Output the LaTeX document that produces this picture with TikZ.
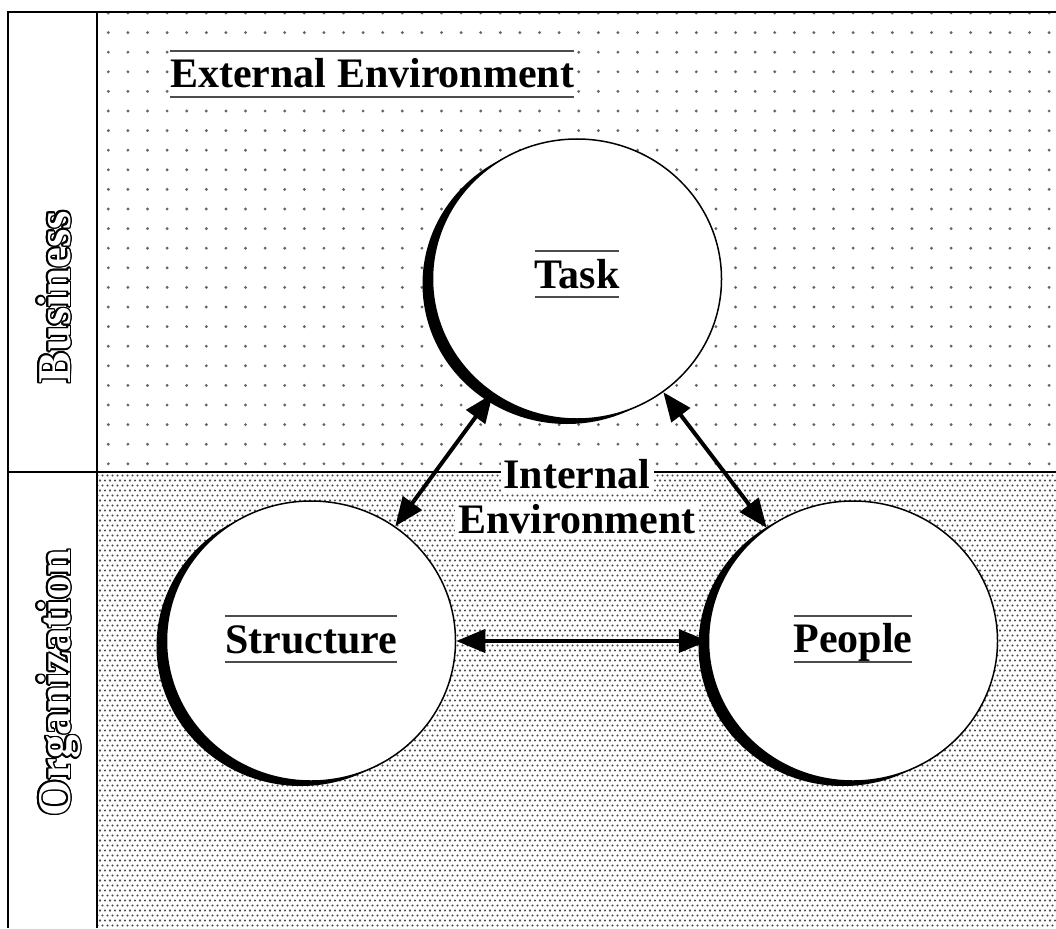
\documentclass[tikz,border=0pt]{standalone}
\usepackage{fontspec}
\setmainfont{Liberation Serif}
\usepackage{contour}
\usetikzlibrary{arrows.meta,shapes.geometric,shadows,patterns}

\pgfdeclarepatternformonly{densedots}{\pgfpoint{-1.5pt}{-1.5pt}}{\pgfpoint{11.5pt}{11.5pt}}{\pgfpoint{10pt}{10pt}}{%
  \pgfpathcircle{\pgfpoint{2.5pt}{2.5pt}}{1.15pt}%
  \pgfpathcircle{\pgfpoint{7.5pt}{2.5pt}}{1.15pt}%
  \pgfpathcircle{\pgfpoint{0pt}{7.5pt}}{1.15pt}%
  \pgfpathcircle{\pgfpoint{5pt}{7.5pt}}{1.15pt}%
  \pgfpathcircle{\pgfpoint{10pt}{7.5pt}}{1.15pt}%
  \pgfusepath{fill}}

\newcommand{\barlabel}[2][0pt]{\vbox{\color{black!70}\hrule height 2pt\hbox{\color{black}\vrule height 36pt depth 8pt width 0pt #2}\hrule height 2pt\kern#1}}
\contourlength{1.6pt}

\tikzset{
  ball/.style={ellipse, minimum width=289pt, minimum height=280pt, inner sep=0pt,
    draw=black, line width=1.5pt, fill=white,
    drop shadow={shadow xshift=-10pt, shadow yshift=-5pt, fill=black, opacity=1}},
  link/.style={line width=4pt, {Triangle[length=29pt,width=23pt]}-{Triangle[length=29pt,width=23pt]}},
  frame/.style={line width=2pt, black},
  sidelabel/.style={rotate=90, anchor=base, text=white, font=\fontsize{47}{50}\selectfont\bfseries}
}

\begin{document}
\begin{tikzpicture}[x=1pt,y=-1pt, font=\fontsize{42}{45}\selectfont\bfseries]
\useasboundingbox (0,0) rectangle (1056,928);
\fill[white] (0,0) rectangle (1056,928);
% patterns
\fill[pattern=densedots, pattern color=black!70] (97,472) rectangle (1056,928);
\foreach \i in {0,...,48}
  \foreach \j in {0,...,23}
    \fill[black!60] (108.3+19.6*\i, 13+19.6*\j) circle (1.6);
% frame
\draw[frame] (8,928) -- (8,12) -- (1056,12);
\draw[frame] (97,12) -- (97,928);
\draw[frame] (8,472) -- (1056,472);
% side labels
\node[sidelabel] (business) at (70,297) {\contour{black}{Business}};
\node[sidelabel] (organization) at (70,683) {\contour{black}{Organization}};
% title
\node[anchor=west, inner sep=0pt, fill=white] (external) at (170,74) {\barlabel{External Environment}};
% circles
\node[ball] (task) at (577,279) {\barlabel[10pt]{Task}};
\node[ball] (structure) at (311,641) {\barlabel[4pt]{Structure}};
\node[ball] (people) at (853,641) {\barlabel[4pt]{People}};
% arrows
\draw[link] (structure) -- (task);
\draw[link] (task) -- (people);
\draw[link] (structure) -- (people);
% internal environment
\node[align=center, inner sep=0pt] (internal) at (577,497) {\colorbox{white}{Internal}\\\colorbox{white}{Environment}};
\end{tikzpicture}
\end{document}
